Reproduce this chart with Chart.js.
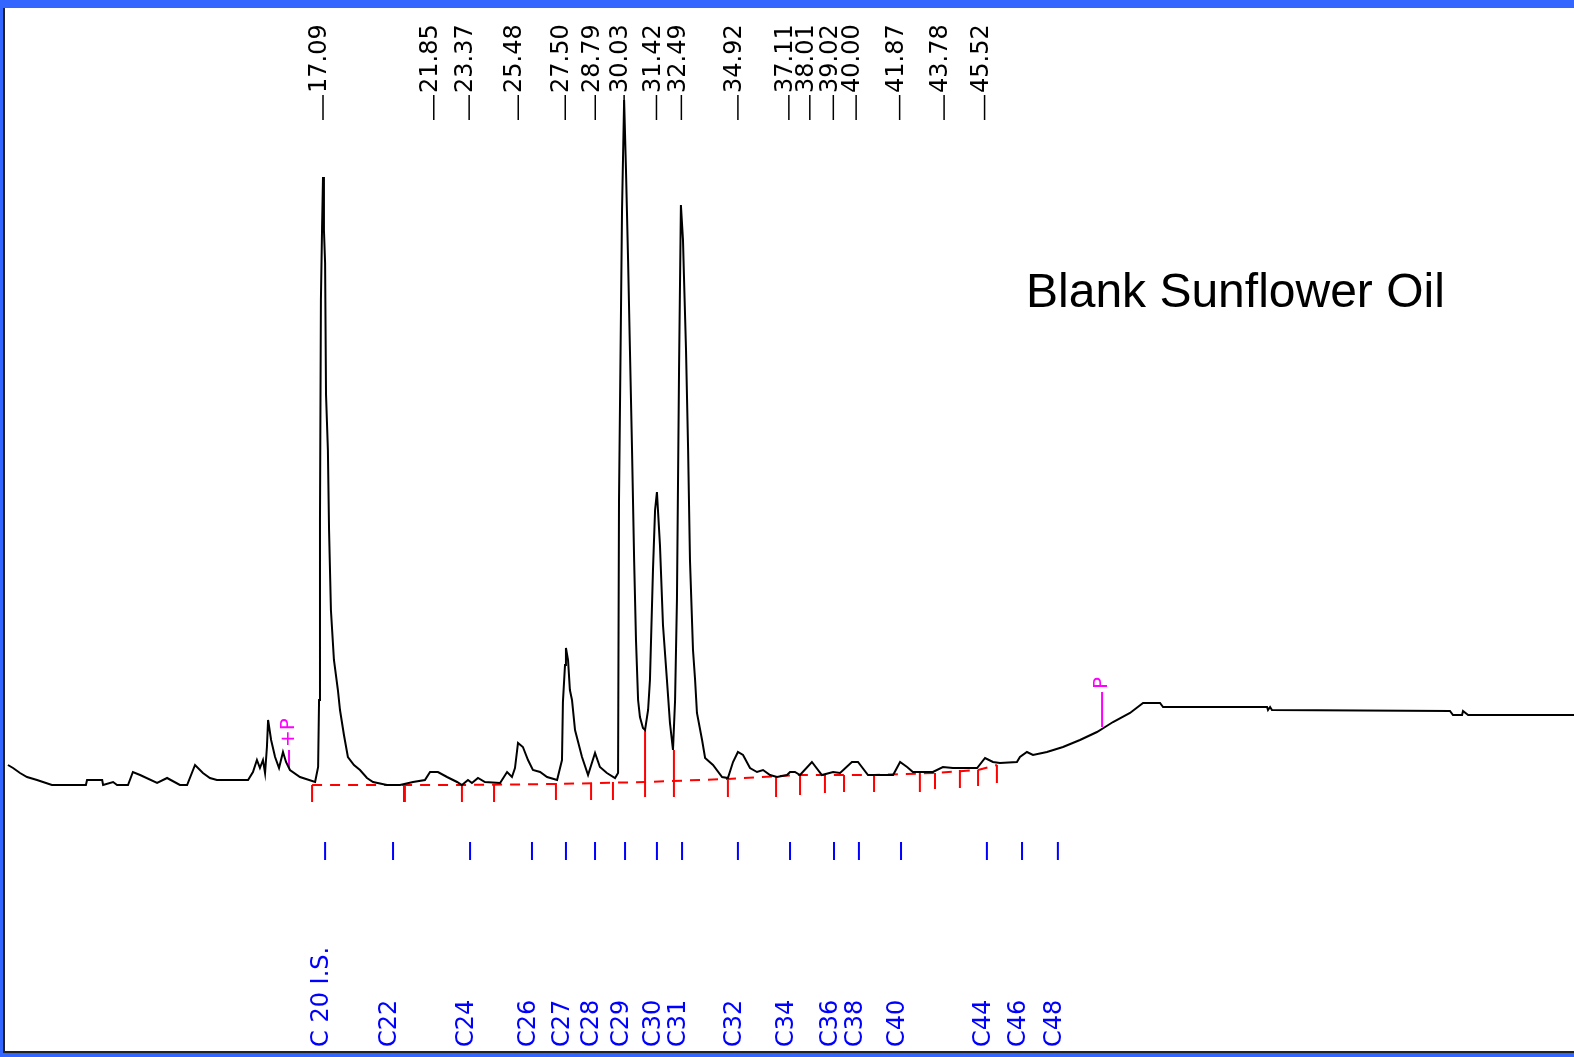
<!DOCTYPE html>
<html>
<head>
<meta charset="utf-8">
<title>Blank Sunflower Oil</title>
<script src="https://cdn.jsdelivr.net/npm/chart.js@4.4.1/dist/chart.umd.min.js"></script>
<style>
  html, body { margin: 0; padding: 0; }
  body { width: 1574px; height: 1057px; background: #3366ff; position: relative; overflow: hidden; }
  #frame { position: absolute; left: 3px; top: 8px; right: 0; height: 1045px; box-sizing: border-box;
           background: #fff; border-left: 2px solid #222; border-bottom: 2px solid #222; }
  #chromatogram { position: absolute; left: 5px; top: 9px; }
</style>
</head>
<body>
<div id="frame"></div>
<canvas id="chromatogram" width="1569" height="1041"></canvas>
<script>
// retention time (min) / detector response
const traceTime = [
  3.55, 3.77, 4.07, 4.37, 4.80, 5.44, 6.90, 6.95, 7.60, 7.64, 8.07, 8.24, 8.71, 8.92, 9.23, 9.96,
  10.39, 10.94, 11.25, 11.59, 11.93, 12.23, 12.53, 13.87, 14.08, 14.25, 14.38, 14.51, 14.60, 14.68,
  14.73, 14.86, 15.03, 15.20, 15.37, 15.50, 15.67, 16.10, 16.75, 16.88, 16.92, 16.96, 17.00, 17.05,
  17.09, 17.13, 17.18, 17.22, 17.30, 17.35, 17.43, 17.56, 17.73, 17.82, 17.99, 18.16, 18.42, 18.68,
  18.98, 19.24, 19.84, 20.40, 20.96, 21.47, 21.69, 22.03, 22.42, 22.85, 23.06, 23.32, 23.49, 23.75,
  24.05, 24.70, 25.00, 25.21, 25.34, 25.47, 25.68, 25.90, 26.11, 26.42, 26.72, 27.15, 27.36, 27.40,
  27.49, 27.53, 27.62, 27.70, 27.79, 27.92, 28.22, 28.48, 28.78, 28.99, 29.29, 29.64, 29.77, 29.81,
  29.90, 29.94, 30.03, 30.11, 30.15, 30.20, 30.28, 30.37, 30.46, 30.54, 30.63, 30.71, 30.84, 30.93,
  31.06, 31.14, 31.27, 31.36, 31.44, 31.57, 31.70, 31.87, 32.00, 32.13, 32.22, 32.30, 32.39, 32.47,
  32.56, 32.60, 32.69, 32.78, 32.86, 32.99, 33.08, 33.16, 33.38, 33.51, 33.85, 34.24, 34.49, 34.71,
  34.92, 35.14, 35.44, 35.74, 36.00, 36.30, 36.60, 37.03, 37.16, 37.37, 37.59, 38.10, 38.53, 39.01,
  39.31, 39.82, 40.08, 40.51, 41.59, 41.89, 42.19, 42.44, 43.30, 43.73, 44.16, 45.20, 45.54, 45.88,
  46.18, 46.91, 47.04, 47.34, 47.60, 48.20, 48.89, 49.62, 50.35, 50.70, 51.04, 51.77, 52.33, 53.06,
  53.19, 57.66, 57.70, 57.79, 57.87, 65.52, 65.65, 66.04, 66.08, 66.30, 70.85
];
const traceSignal = [
  20, 17, 12, 8, 5, 0, 0, 5, 5, 0, 3, 0, 0, 13, 10, 2,
  7, 0, 0, 20, 12, 7, 5, 5, 13, 25, 17, 25, 12, 38,
  65, 45, 28, 17, 33, 23, 15, 8, 3, 18, 85, 265, 485, 558,
  608, 555, 522, 390, 335, 255, 175, 125, 95, 75, 50, 28, 20, 15,
  7, 3, 0, 0, 3, 5, 13, 13, 8, 3, 0, 5, 2, 7,
  3, 2, 13, 8, 17, 42, 38, 25, 15, 13, 8, 5, 25, 83,
  120, 137, 125, 95, 85, 55, 28, 10, 32, 18, 12, 7, 12, 285,
  485, 575, 685, 615, 575, 525, 435, 335, 225, 145, 85, 68, 57, 55,
  75, 105, 215, 275, 293, 240, 160, 105, 62, 35, 85, 185, 415, 580,
  545, 510, 435, 335, 225, 135, 105, 72, 45, 27, 20, 8, 7, 23,
  33, 30, 17, 13, 15, 10, 8, 10, 13, 13, 10, 23, 10, 13,
  12, 23, 23, 10, 10, 23, 18, 13, 13, 18, 17, 17, 27, 23,
  22, 23, 28, 33, 30, 33, 38, 45, 53, 58, 63, 72, 82, 82,
  78, 78, 75, 78, 75, 74, 70, 70, 74, 70, 70
];

// labelled peaks (retention time printed above each)
const peakTimes = [17.09, 21.85, 23.37, 25.48, 27.50, 28.79, 30.03, 31.42, 32.49,
                   34.92, 37.11, 38.01, 39.02, 40.00, 41.87, 43.78, 45.52];

// integration baseline and peak cut marks
const baselineTime = [16.62, 23.06, 27.10, 30.93, 34.49, 37.59, 40.77, 43.39, 45.24, 46.05];
const baselineSignal = [0, 0, 1, 3, 6, 10, 10, 12, 15, 20];
const cutTime = [16.62, 20.57, 20.61, 23.06, 24.44, 27.10, 28.61, 29.55, 30.93, 32.17,
                 34.49, 36.56, 37.59, 38.66, 39.48, 40.77, 42.74, 43.39, 44.46, 45.24, 46.05];
const cutTop = [0, 0, 0, 0, 0, 2, 2, 3, 55, 35, 6, 8, 10, 10, 10, 10, 12, 12, 15, 15, 20];
const cutBottom = [-17, -17, -17, -17, -17, -15, -15, -15, -12, -12, -12, -12, -10, -8, -7, -7, -7, -4, -3, -1, 2];

// identified components (expected windows)
const componentTimes = [17.18, 20.10, 23.41, 26.07, 27.53, 28.78, 30.07, 31.44, 32.52,
                        34.92, 37.16, 39.05, 40.12, 41.93, 45.62, 47.13, 48.67];
const componentNames = ['C 20 I.S.', 'C22', 'C24', 'C26', 'C27', 'C28', 'C29', 'C30', 'C31',
                        'C32', 'C34', 'C36', 'C38', 'C40', 'C44', 'C46', 'C48'];
const componentTop = -57;
const componentBottom = -75;

// integration event markers
const eventTimes = [15.63, 50.57];
const eventNames = ['+P', 'P'];
const eventTop = [35, 93];
const eventBottom = [17, 58];

function segments(times, tops, bottoms) {
  const pts = [];
  times.forEach((t, i) => {
    const top = Array.isArray(tops) ? tops[i] : tops;
    const bottom = Array.isArray(bottoms) ? bottoms[i] : bottoms;
    pts.push({ x: t, y: top }, { x: t, y: bottom }, { x: t, y: null });
  });
  return pts;
}

const labelsPlugin = {
  id: 'chromLabels',
  afterDatasetsDraw(chart) {
    const ctx = chart.ctx;
    const x = chart.scales.x;
    ctx.save();

    // retention times along the top
    ctx.strokeStyle = '#000';
    ctx.fillStyle = '#000';
    ctx.lineWidth = 1.5;
    ctx.font = '24px "DejaVu Sans"';
    peakTimes.forEach(t => {
      const px = x.getPixelForValue(t);
      ctx.beginPath();
      ctx.moveTo(px, 86);
      ctx.lineTo(px, 111);
      ctx.stroke();
      ctx.save();
      ctx.translate(px - 3, 84);
      ctx.rotate(-Math.PI / 2);
      ctx.textAlign = 'left';
      ctx.textBaseline = 'middle';
      ctx.fillText(t.toFixed(2), 0, 0);
      ctx.restore();
    });

    // component names along the bottom
    ctx.fillStyle = '#0000ff';
    componentTimes.forEach((t, i) => {
      const px = x.getPixelForValue(t);
      ctx.save();
      ctx.translate(px - 3, 1038);
      ctx.rotate(-Math.PI / 2);
      ctx.textAlign = 'left';
      ctx.textBaseline = 'middle';
      ctx.fillText(componentNames[i], 0, 0);
      ctx.restore();
    });

    // event marker letters
    ctx.fillStyle = '#ff00ff';
    ctx.font = '20px "DejaVu Sans"';
    eventTimes.forEach((t, i) => {
      const px = x.getPixelForValue(t);
      const py = chart.scales.y.getPixelForValue(eventTop[i]);
      ctx.save();
      ctx.translate(px, py - 3);
      ctx.rotate(-Math.PI / 2);
      ctx.textAlign = 'left';
      ctx.textBaseline = 'middle';
      ctx.fillText(eventNames[i], 0, 0);
      ctx.restore();
    });

    // sample name
    ctx.fillStyle = '#000';
    ctx.font = '48px "Liberation Sans"';
    ctx.textAlign = 'left';
    ctx.textBaseline = 'alphabetic';
    ctx.fillText('Blank Sunflower Oil', 1021, 298);
    ctx.restore();
  }
};

const ctx = document.getElementById('chromatogram').getContext('2d');
new Chart(ctx, {
  type: 'line',
  data: {
    datasets: [
      {
        label: 'Signal',
        data: traceTime.map((t, i) => ({ x: t, y: traceSignal[i] })),
        borderColor: '#000',
        borderWidth: 2,
        pointRadius: 0,
        tension: 0
      },
      {
        label: 'Baseline',
        data: baselineTime.map((t, i) => ({ x: t, y: baselineSignal[i] })),
        borderColor: '#ff0000',
        borderWidth: 2,
        borderDash: [10, 8],
        pointRadius: 0
      },
      {
        label: 'Cuts',
        data: segments(cutTime, cutTop, cutBottom),
        borderColor: '#ff0000',
        borderWidth: 2,
        pointRadius: 0,
        spanGaps: false
      },
      {
        label: 'Components',
        data: segments(componentTimes, componentTop, componentBottom),
        borderColor: '#0000ff',
        borderWidth: 2,
        pointRadius: 0,
        spanGaps: false
      },
      {
        label: 'Events',
        data: segments(eventTimes, eventTop, eventBottom),
        borderColor: '#ff00ff',
        borderWidth: 2,
        pointRadius: 0,
        spanGaps: false
      }
    ]
  },
  options: {
    responsive: false,
    animation: false,
    devicePixelRatio: 1,
    layout: { padding: 0 },
    plugins: { legend: { display: false }, tooltip: { enabled: false } },
    scales: {
      x: { type: 'linear', min: 3.424, max: 70.85, bounds: 'data', display: false },
      y: { type: 'linear', min: -265, max: 776, bounds: 'data', display: false }
    }
  },
  plugins: [labelsPlugin]
});
</script>
</body>
</html>
